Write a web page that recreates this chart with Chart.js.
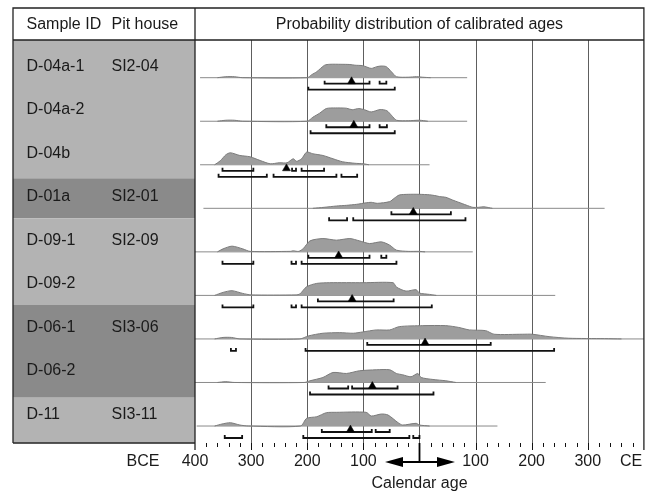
<!DOCTYPE html>
<html><head><meta charset="utf-8">
<script src="https://cdn.jsdelivr.net/npm/chart.js@4/dist/chart.umd.min.js"></script>
<style>html,body{margin:0;padding:0;background:#fff;overflow:hidden}#wrap{width:649px;height:496px}</style>
</head><body><div id="wrap"><canvas id="c" width="649" height="496"></canvas></div>
<script>
// ---- data (years: negative = BCE, positive = CE; density in relative units) ----
const sampleIds = ['D-04a-1','D-04a-2','D-04b','D-01a','D-09-1','D-09-2','D-06-1','D-06-2','D-11'];
const pitHouses = ['SI2-04','','','SI2-01','SI2-09','','SI3-06','','SI3-11'];
const darkRows = [false,false,false,true,false,false,true,true,false];

const densD04a1 = [[-360,0],[-345,1],[-330,1],[-315,0],[-200,0],[-192,3],[-183,6],[-169,12.5],[-160,13.4],[-140,13.4],[-124,13.2],[-115,12.5],[-101,12],[-86,9.3],[-76,11],[-68,11.7],[-59,11],[-50,6],[-41,1],[-20,0.5],[-5,1],[5,0.5],[20,0]];
const densD04a2 = [[-360,0],[-345,1],[-330,1],[-315,0],[-200,0],[-190,4],[-178,8],[-166,12.7],[-150,13.3],[-130,13],[-120,11.5],[-108,12.7],[-98,11.5],[-86,9.3],[-70,11.7],[-58,10.5],[-50,6],[-41,1],[-20,0.5],[0,1],[15,0]];
const densD04b = [[-365,0],[-355,4],[-345,10],[-337,12],[-320,9.3],[-302,8],[-284,4.3],[-266,1],[-250,2],[-236,2],[-225,6],[-219,3.5],[-210,6],[-201,12.7],[-190,11],[-172,9.3],[-154,6],[-137,3],[-115,1.5],[-100,1],[-90,0]];
const densD01a = [[-190,0],[-170,1],[-148,2.3],[-130,3],[-112,4],[-95,5.5],[-86,6],[-75,5],[-53,6.7],[-45,10],[-36,13.3],[-20,14],[0,14],[18,13.5],[30,12.5],[36,11.7],[47,11],[59,8.3],[70,6],[83,3.3],[95,1],[105,1],[115,1.5],[130,0]];
const densD091 = [[-360,0],[-350,3],[-334,5.7],[-315,3],[-302,0.5],[-230,0.5],[-225,1],[-215,0.5],[-207,3.3],[-195,11],[-172,13.3],[-148,11.7],[-124,13.3],[-107,11],[-89,8.3],[-68,10],[-53,6.7],[-41,1.7],[-20,0.5],[0,0.5],[10,0]];
const densD092 = [[-365,0],[-350,3],[-334,4.7],[-315,2],[-300,0.5],[-220,0.5],[-213,1.5],[-201,8.7],[-183,12],[-160,12.7],[-100,12.7],[-47,12.7],[-41,8.3],[-24,4.3],[-6,5.7],[0,2.3],[18,1],[30,0]];
const densD061 = [[-365,0],[-350,1.5],[-335,1.5],[-320,0],[-213,0],[-198,3],[-172,5.7],[-142,6.3],[-118,5.7],[-101,7],[-77,9],[-53,9],[-36,12.3],[6,13.3],[47,13.3],[70,11.5],[89,9],[118,8.3],[133,4.7],[184,4.7],[201,4.7],[231,2.3],[266,0.7],[330,0.3],[360,0]];
const densD062 = [[-360,0],[-345,0.8],[-330,0],[-205,0],[-195,1.7],[-172,5],[-154,10],[-130,9],[-107,11.7],[-77,12.7],[-53,12.7],[-41,9],[-30,7.7],[-15,5.7],[-3,9],[3,5],[24,3],[47,1.7],[65,0]];
const densD11 = [[-365,0],[-352,2],[-337,3.3],[-320,1],[-305,0],[-212,0],[-201,7.7],[-183,9.3],[-166,13.3],[-148,13.7],[-95,13.7],[-86,10],[-68,12],[-56,11],[-38,3.3],[-30,1],[-6,2.7],[0,1],[18,0]];
const densities = [densD04a1,densD04a2,densD04b,densD01a,densD091,densD092,densD061,densD062,densD11];

const sigma1 = [
  [[-169,-89],[-71,-59]],
  [[-166,-89],[-71,-58]],
  [[-351,-296],[-227,-220],[-210,-170]],
  [[-50,56]],
  [[-198,-89],[-68,-59]],
  [[-181,-46]],
  [[-93,127]],
  [[-162,-127],[-120,-39]],
  [[-174,-85],[-78,-53]]
];
const sigma2 = [
  [[-198,-44]],
  [[-194,-44]],
  [[-358,-272],[-260,-148],[-139,-111]],
  [[-161,-129],[-118,82]],
  [[-351,-296],[-228,-220],[-210,-41]],
  [[-351,-296],[-228,-220],[-210,22]],
  [[-336,-327],[-203,240]],
  [[-195,25]],
  [[-347,-316],[-207,-18],[-11,0]]
];
const medians = [-121,-117,-237,-11,-144,-120,10,-84,-123];
const curveExtents = [[-391,85],[-391,85],[-391,18],[-385,330],[-400,95],[-400,242],[-400,400],[-400,225],[-397,139]];

const tickYears = [-400,-300,-200,-100,100,200,300];
const tickLabels = ['400','300','200','100','100','200','300'];
const gridYears = [-300,-200,-100,0,100,200,300];

// ---- layout ----
const ROW0 = 365.3, ROWSTEP = 43.54, S1 = 6, S2 = 12, TICK_H = 3, TRI_R = 4.6;
const base = i => ROW0 - ROWSTEP * i;
const FONT = '16px "Liberation Sans", Arial, sans-serif';

function bracketPts(ranges, y){
  const pts = [];
  ranges.forEach(([a,b]) => {
    pts.push({x:a,y:y+TICK_H},{x:a,y:y},{x:b,y:y},{x:b,y:y+TICK_H},{x:b,y:null});
  });
  return pts;
}

const datasets = [];
sampleIds.forEach((id, i) => {
  const b = base(i);
  datasets.push({label:id+' axis', data: curveExtents[i].map(x => ({x, y:b})), borderColor:'#8a8a8a', borderWidth:1, pointRadius:0, fill:false, order:5});
  datasets.push({label:id+' density', data: densities[i].map(([x,h]) => ({x, y:b+h})), borderColor:'#7c7c7c', borderWidth:1, backgroundColor:'#9d9d9d', fill:{value:b}, pointRadius:0, tension:0.25, order:4});
  datasets.push({label:id+' 1s', data: bracketPts(sigma1[i], b - S1), borderColor:'#111', borderWidth:1.8, pointRadius:0, tension:0, spanGaps:false, fill:false, borderCapStyle:'butt', borderJoinStyle:'miter', order:2});
  datasets.push({label:id+' 2s', data: bracketPts(sigma2[i], b - S2), borderColor:'#111', borderWidth:1.8, pointRadius:0, tension:0, spanGaps:false, fill:false, borderCapStyle:'butt', borderJoinStyle:'miter', order:2});
});
datasets.push({label:'median', data: medians.map((m,i) => ({x:m, y: base(i) - S1 + TRI_R/2})), showLine:false, pointStyle:'triangle', pointRadius:TRI_R, backgroundColor:'#000', borderColor:'#000', borderWidth:0.5, order:1});

const framePlugin = {
  id:'frame',
  beforeDraw(chart){
    const ctx = chart.ctx, a = chart.chartArea;
    ctx.save();
    ctx.fillStyle = '#fff'; ctx.fillRect(0,0,chart.width,chart.height);
    // left panel bands
    const bands = [[40,178.3,false],[178.3,218.3,true],[218.3,305,false],[305,397.7,true],[397.7,442.7,false]];
    bands.forEach(([y0,y1,d]) => { ctx.fillStyle = d ? '#8a8a8a' : '#b3b3b3'; ctx.fillRect(13, y0, a.left-13, y1-y0); });
    ctx.restore();
  },
  beforeDatasetsDraw(chart){
    const ctx = chart.ctx, a = chart.chartArea, xs = chart.scales.x;
    ctx.save();
    ctx.strokeStyle = '#5e5e5e'; ctx.lineWidth = 1;
    gridYears.forEach(v => {
      const px = Math.round(xs.getPixelForValue(v)) + 0.5;
      ctx.beginPath(); ctx.moveTo(px, a.top); ctx.lineTo(px, a.bottom); ctx.stroke();
    });
    ctx.restore();
  },
  afterDraw(chart){
    const ctx = chart.ctx, a = chart.chartArea, xs = chart.scales.x;
    ctx.save();
    ctx.strokeStyle = '#222'; ctx.lineWidth = 1.3;
    // outer frame
    ctx.beginPath();
    ctx.moveTo(13, a.bottom); ctx.lineTo(13, 8); ctx.lineTo(a.right, 8); ctx.lineTo(a.right, a.bottom + 7);
    ctx.moveTo(13, 40); ctx.lineTo(a.right, 40);
    ctx.moveTo(a.left, 8); ctx.lineTo(a.left, a.bottom + 7);
    ctx.moveTo(13, a.bottom); ctx.lineTo(a.left, a.bottom);
    ctx.stroke();
    // ticks
    ctx.lineWidth = 1; ctx.strokeStyle = '#111';
    for (let v = -380; v <= 380; v += 20) {
      const px = Math.round(xs.getPixelForValue(v)) + 0.5;
      const major = v % 100 === 0;
      ctx.beginPath(); ctx.moveTo(px, a.bottom); ctx.lineTo(px, a.bottom + (major ? 7 : 4)); ctx.stroke();
    }
    // arrow at 0
    const x0 = Math.round(xs.getPixelForValue(0)) + 0.5;
    const ay = 462;
    ctx.lineWidth = 1.8; ctx.strokeStyle = '#000'; ctx.fillStyle = '#000';
    ctx.beginPath(); ctx.moveTo(x0, a.bottom); ctx.lineTo(x0, ay); ctx.moveTo(400 - 15 + 17, ay); ctx.lineTo(455 - 17, ay); ctx.stroke();
    ctx.beginPath(); ctx.moveTo(385, ay); ctx.lineTo(403, ay - 5); ctx.lineTo(403, ay + 5); ctx.closePath(); ctx.fill();
    ctx.beginPath(); ctx.moveTo(455, ay); ctx.lineTo(437, ay - 5); ctx.lineTo(437, ay + 5); ctx.closePath(); ctx.fill();
    // texts
    ctx.font = FONT; ctx.fillStyle = '#1a1a1a'; ctx.textBaseline = 'middle';
    ctx.textAlign = 'left';
    ctx.fillText('Sample ID', 26.5, 24.5);
    ctx.fillText('Pit house', 111.5, 24.5);
    sampleIds.forEach((id, i) => {
      const py = chart.scales.y.getPixelForValue(base(i)) - 11.5;
      ctx.fillText(id, 26.5, py);
      if (pitHouses[i]) ctx.fillText(pitHouses[i], 111.5, py);
    });
    ctx.textAlign = 'center';
    ctx.fillText('Probability distribution of calibrated ages', (a.left + a.right) / 2, 24.5);
    tickYears.forEach((v, k) => ctx.fillText(tickLabels[k], xs.getPixelForValue(v), 462));
    ctx.fillText('BCE', 143, 462);
    ctx.fillText('CE', 631, 462);
    ctx.fillText('Calendar age', x0, 484);
    ctx.restore();
  }
};

new Chart(document.getElementById('c'), {
  type:'line',
  data:{datasets},
  options:{
    responsive:false, animation:false, events:[],
    layout:{padding:{left:195, right:4, top:40, bottom:53}},
    scales:{
      x:{type:'linear', min:-400, max:400, display:false},
      y:{type:'linear', min:0, max:403, display:false}
    },
    plugins:{legend:{display:false}, tooltip:{enabled:false}}
  },
  plugins:[framePlugin]
});
</script>
</body></html>
